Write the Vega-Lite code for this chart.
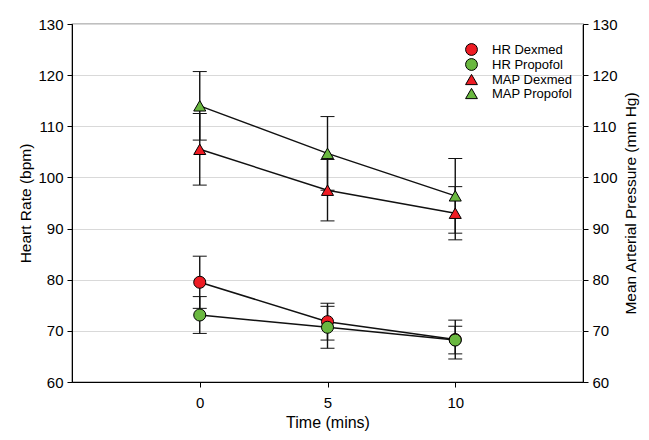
{
  "$schema": "https://vega.github.io/schema/vega-lite/v6.json",
  "width": 511,
  "height": 358,
  "autosize": {"type": "none"},
  "padding": {"left": 72, "top": 24, "right": 66, "bottom": 58},
  "background": "white",
  "config": {
    "font": "Liberation Sans",
    "view": {"stroke": "black", "strokeWidth": 1.2},
    "axis": {
      "labelFont": "Liberation Sans",
      "titleFont": "Liberation Sans",
      "labelFontSize": 15,
      "titleFontSize": 15.5,
      "titleFontWeight": "normal",
      "labelColor": "black",
      "titleColor": "black",
      "domainColor": "black",
      "tickColor": "black",
      "tickSize": 5,
      "labelPadding": 4
    }
  },
  "data": {
    "values": [
      {"time": 0, "series": "HR Dexmed", "value": 79.5, "sd": 5.1},
      {"time": 5, "series": "HR Dexmed", "value": 71.8, "sd": 3.6},
      {"time": 10, "series": "HR Dexmed", "value": 68.3, "sd": 3.8},
      {"time": 0, "series": "HR Propofol", "value": 73.1, "sd": 3.6},
      {"time": 5, "series": "HR Propofol", "value": 70.7, "sd": 4.1},
      {"time": 10, "series": "HR Propofol", "value": 68.2, "sd": 2.7},
      {"time": 0, "series": "MAP Dexmed", "value": 105.5, "sd": 7.0},
      {"time": 5, "series": "MAP Dexmed", "value": 97.5, "sd": 6.0},
      {"time": 10, "series": "MAP Dexmed", "value": 93.0, "sd": 5.2},
      {"time": 0, "series": "MAP Propofol", "value": 114.0, "sd": 6.7},
      {"time": 5, "series": "MAP Propofol", "value": 104.7, "sd": 7.2},
      {"time": 10, "series": "MAP Propofol", "value": 96.4, "sd": 7.3}
    ]
  },
  "layer": [
    {
      "encoding": {
        "x": {
          "field": "time",
          "type": "quantitative",
          "scale": {"domain": [-5, 15], "nice": false},
          "axis": {"values": [0, 5, 10], "grid": false, "title": "Time (mins)", "titleFontSize": 16, "labelPadding": 8, "titlePadding": 4}
        },
        "y": {
          "field": "value",
          "type": "quantitative",
          "scale": {"domain": [60, 130], "nice": false, "zero": false},
          "axis": {
            "values": [60, 70, 80, 90, 100, 110, 120, 130],
            "grid": true,
            "gridColor": "#d9d9d9",
            "gridWidth": 1.2,
            "title": "Heart Rate (bpm)",
            "titlePadding": 4
          }
        }
      },
      "layer": [
        {
          "mark": {"type": "errorbar", "ticks": {"size": 14, "color": "#111111", "strokeWidth": 1.4, "opacity": 1}, "rule": {"color": "#111111", "strokeWidth": 1.4, "opacity": 1}},
          "encoding": {
            "yError": {"field": "sd"},
            "detail": {"field": "series"}
          }
        },
        {
          "mark": {"type": "line", "color": "#111111", "strokeWidth": 1.5},
          "encoding": {"detail": {"field": "series"}}
        },
        {
          "mark": {"type": "point", "filled": true, "size": 145, "stroke": "black", "strokeWidth": 1, "opacity": 1},
          "encoding": {
            "color": {
              "field": "series",
              "type": "nominal",
              "scale": {
                "domain": ["HR Dexmed", "HR Propofol", "MAP Dexmed", "MAP Propofol"],
                "range": ["#ee1c24", "#6ab840", "#ee1c24", "#6ab840"]
              },
              "legend": {
                "title": null,
                "orient": "none",
                "legendX": 393,
                "legendY": 19,
                "labelFontSize": 13,
                "labelColor": "black",
                "symbolSize": 140,
                "symbolStrokeColor": "black",
                "symbolStrokeWidth": 1,
                "rowPadding": -2,
                "labelOffset": 14
              }
            },
            "shape": {
              "field": "series",
              "type": "nominal",
              "scale": {
                "domain": ["HR Dexmed", "HR Propofol", "MAP Dexmed", "MAP Propofol"],
                "range": ["circle", "circle", "triangle-up", "triangle-up"]
              },
              "legend": {
                "title": null,
                "orient": "none",
                "legendX": 393,
                "legendY": 19,
                "labelFontSize": 13,
                "labelColor": "black",
                "symbolSize": 140,
                "symbolStrokeColor": "black",
                "symbolStrokeWidth": 1,
                "rowPadding": -2,
                "labelOffset": 14
              }
            }
          }
        }
      ]
    },
    {
      "mark": {"type": "point", "opacity": 0},
      "encoding": {
        "x": {"field": "time", "type": "quantitative", "scale": {"domain": [-5, 15], "nice": false}},
        "y": {
          "field": "value",
          "type": "quantitative",
          "scale": {"domain": [60, 130], "nice": false, "zero": false},
          "axis": {
            "orient": "right",
            "values": [60, 70, 80, 90, 100, 110, 120, 130],
            "grid": false,
            "title": "Mean Arterial Pressure (mm Hg)",
            "titleAngle": -90,
            "titleBaseline": "top",
            "titlePadding": 6
          }
        }
      }
    }
  ],
  "resolve": {"scale": {"y": "independent"}}
}
